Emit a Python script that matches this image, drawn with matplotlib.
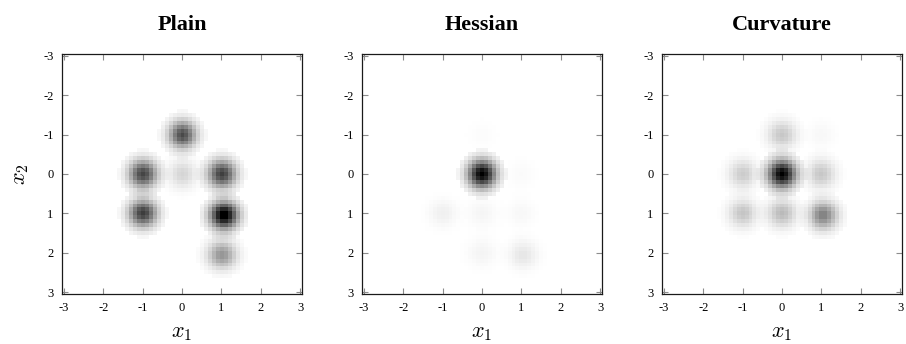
import numpy as np
import matplotlib
matplotlib.use("Agg")
import matplotlib.pyplot as plt

# --- CONFIGURATION ---
OUT_FILE = "out.png"
plt.rcParams['font.family'] = ['Liberation Serif', 'DejaVu Serif']
plt.rcParams['mathtext.fontset'] = 'cm'

# --- DATA ---
# bump centres (x1, x2) and their weights for each panel
PANEL_TITLES = ["Plain", "Hessian", "Curvature"]

plain_x1 = [0.0, -1.0, 0.0, 1.0, -1.0, 1.05, 1.0]
plain_x2 = [-1.0, 0.0, 0.0, 0.0, 1.0, 1.05, 2.05]
plain_w = [0.68, 0.70, 0.16, 0.72, 0.73, 1.00, 0.40]

hessian_x1 = [0.0, 0.0, 1.0, -1.0, 0.0, 1.0, 0.0, 1.05]
hessian_x2 = [-1.0, 0.0, 0.0, 1.0, 1.0, 1.0, 2.0, 2.05]
hessian_w = [0.015, 1.00, 0.02, 0.06, 0.04, 0.03, 0.045, 0.10]

curv_x1 = [0.0, 1.0, -1.0, 0.0, 1.0, -1.0, 0.0, 1.05]
curv_x2 = [-1.0, -1.0, 0.0, 0.0, 0.0, 1.0, 1.0, 1.05]
curv_w = [0.22, 0.03, 0.20, 1.00, 0.22, 0.23, 0.27, 0.50]

TICKS = [-3, -2, -1, 0, 1, 2, 3]
TICK_LABELS = ["-3", "-2", "-1", "0", "1", "2", "3"]

# --- FIELD ON A 0.1 GRID ---
grid = np.linspace(-3, 3, 61)
G1, G2 = np.meshgrid(grid, grid)
SIGMA = 0.245
CUTOFF = 0.62  # each bump is zero beyond this radius


def density(cx, cy, w):
    z = np.zeros_like(G1)
    for a, b, c in zip(cx, cy, w):
        r2 = (G1 - a) ** 2 + (G2 - b) ** 2
        bump = c * np.exp(-r2 / (2 * SIGMA ** 2))
        z += np.where(r2 < CUTOFF ** 2, bump, 0.0)
    return z


fields = [
    density(plain_x1, plain_x2, plain_w),
    density(hessian_x1, hessian_x2, hessian_w),
    density(curv_x1, curv_x2, curv_w),
]

# --- VISUALIZATION ---
fig = plt.figure(figsize=(9.06, 3.44), dpi=100)
lefts = [62, 362, 662]
for i, (title, z) in enumerate(zip(PANEL_TITLES, fields)):
    ax = fig.add_axes([lefts[i] / 906, 50 / 344, 240 / 906, 240 / 344])
    ax.imshow(z, cmap='gray_r', vmin=0, vmax=z.max(), interpolation='nearest',
              extent=(-3.05, 3.05, 3.05, -3.05), aspect='auto')
    ax.set_xlim(-3.05, 3.05)
    ax.set_ylim(3.05, -3.05)
    ax.set_xticks(TICKS)
    ax.set_xticklabels(TICK_LABELS)
    ax.set_yticks(TICKS)
    ax.set_yticklabels(TICK_LABELS)
    ax.tick_params(direction='in', length=4, width=0.8, color='0.55',
                   top=True, right=True, labelsize=9, pad=6)
    for s in ax.spines.values():
        s.set_linewidth(0.9)
        s.set_color('0.1')
    ax.set_title(title, fontsize=16, fontweight='bold', pad=17)
    ax.set_xlabel(r'$x_1$', fontsize=16, labelpad=7)
    if i == 0:
        ax.set_ylabel(r'$x_2$', fontsize=16, labelpad=9)

plt.savefig(OUT_FILE, dpi=100)
plt.close()
